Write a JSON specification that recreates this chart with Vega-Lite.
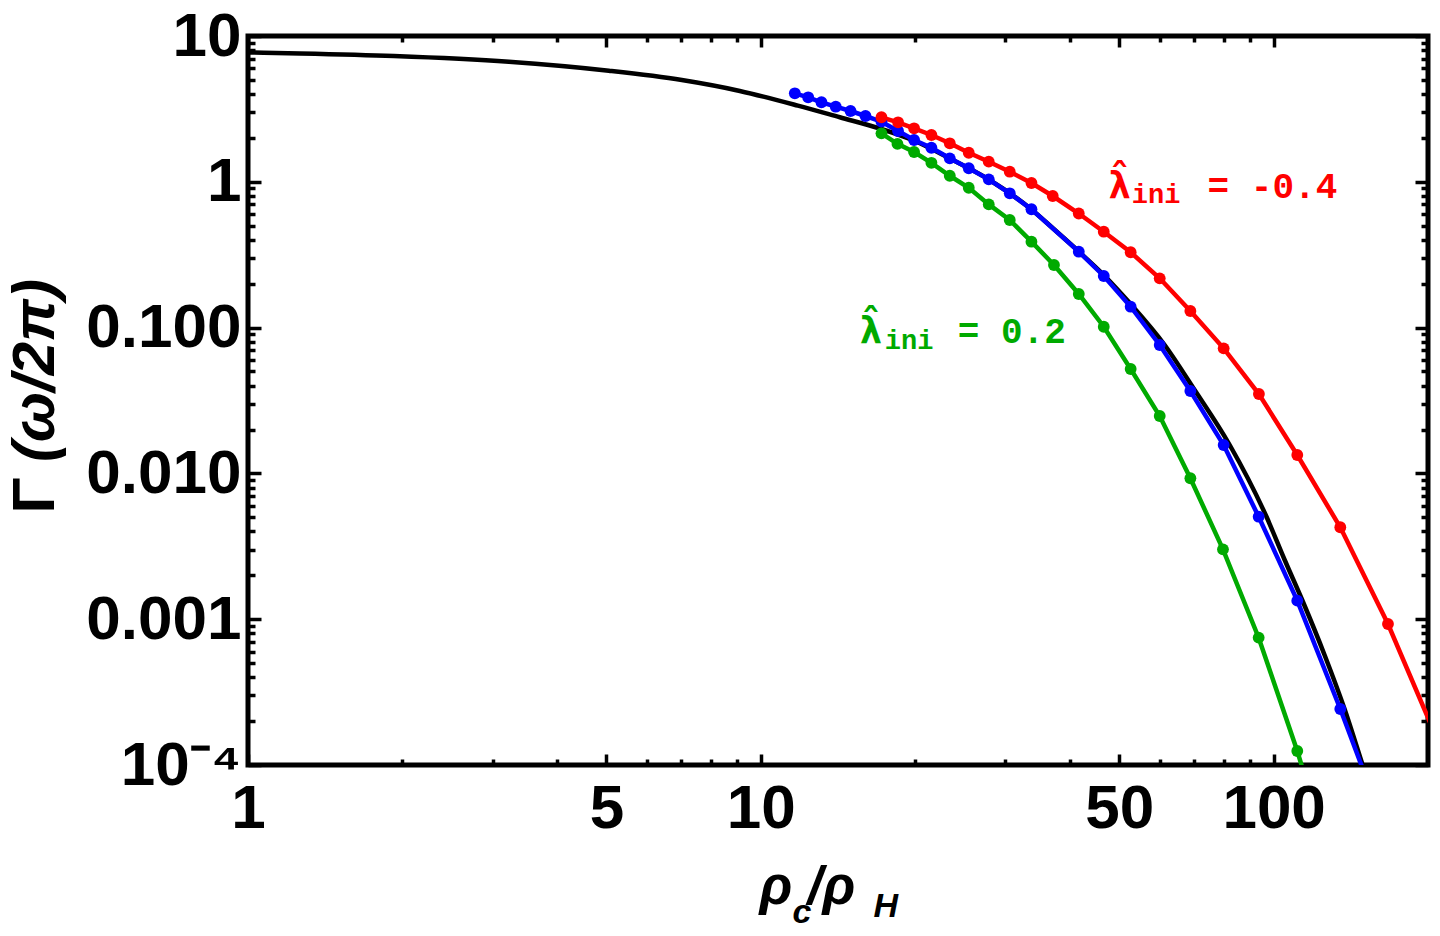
{
  "$schema": "https://vega.github.io/schema/vega-lite/v6.json",
  "description": "Gamma (omega/2pi) against rho_c/rho_H on log-log axes: theory curve and three lambda_ini series.",
  "width": 1180,
  "height": 729,
  "autosize": "none",
  "padding": {"left": 248, "top": 36, "right": 12, "bottom": 171},
  "background": "white",
  "datasets": {
    "theory": [
      {"rho": 1, "gamma": 7.71}, {"rho": 1.263, "gamma": 7.59}, {"rho": 1.926, "gamma": 7.29},
      {"rho": 3.227, "gamma": 6.66}, {"rho": 5.054, "gamma": 5.78}, {"rho": 7.015, "gamma": 4.99},
      {"rho": 9.1, "gamma": 4.2}, {"rho": 11.81, "gamma": 3.33}, {"rho": 14.26, "gamma": 2.77},
      {"rho": 17.06, "gamma": 2.32}, {"rho": 19.87, "gamma": 1.92}, {"rho": 23.36, "gamma": 1.445},
      {"rho": 27.83, "gamma": 1.037}, {"rho": 33.71, "gamma": 0.6457}, {"rho": 37.26, "gamma": 0.4746},
      {"rho": 41.69, "gamma": 0.3327}, {"rho": 46.64, "gamma": 0.2296}, {"rho": 52.63, "gamma": 0.1451},
      {"rho": 61.31, "gamma": 0.076}, {"rho": 70.15, "gamma": 0.03733}, {"rho": 82.1, "gamma": 0.01566},
      {"rho": 96.9, "gamma": 0.00502}, {"rho": 105.1, "gamma": 0.002547}, {"rho": 113.9, "gamma": 0.001333},
      {"rho": 125.7, "gamma": 0.000568}, {"rho": 137.5, "gamma": 0.000242}, {"rho": 149.1, "gamma": 0.0001},
      {"rho": 153.9, "gamma": 0.0000706}
    ],
    "series": [
      {"lam": "other", "rho": 11.65, "gamma": 4.046}, {"lam": "other", "rho": 12.37, "gamma": 3.798},
      {"lam": "other", "rho": 13.13, "gamma": 3.511}, {"lam": "other", "rho": 14.0, "gamma": 3.274},
      {"lam": "other", "rho": 14.96, "gamma": 3.059}, {"lam": "other", "rho": 16.0, "gamma": 2.827},
      {"lam": "other", "rho": 17.19, "gamma": 2.584}, {"lam": "other", "rho": 18.52, "gamma": 2.23},
      {"lam": "other", "rho": 19.9, "gamma": 1.935}, {"lam": "other", "rho": 21.51, "gamma": 1.713},
      {"lam": "other", "rho": 23.36, "gamma": 1.449}, {"lam": "other", "rho": 25.44, "gamma": 1.238},
      {"lam": "other", "rho": 27.83, "gamma": 1.04}, {"lam": "other", "rho": 30.58, "gamma": 0.834},
      {"lam": "other", "rho": 33.71, "gamma": 0.648}, {"lam": "other", "rho": 41.69, "gamma": 0.3316},
      {"lam": "other", "rho": 46.64, "gamma": 0.2259}, {"lam": "other", "rho": 52.63, "gamma": 0.1391},
      {"lam": "other", "rho": 59.96, "gamma": 0.076}, {"lam": "other", "rho": 68.81, "gamma": 0.03674},
      {"lam": "other", "rho": 79.9, "gamma": 0.01566}, {"lam": "other", "rho": 93.5, "gamma": 0.005047},
      {"lam": "other", "rho": 111.2, "gamma": 0.00134}, {"lam": "other", "rho": 134.9, "gamma": 0.000242},
      {"lam": "other", "rho": 164.6, "gamma": 0.0000376},
      {"lam": "0.2", "rho": 17.19, "gamma": 2.15}, {"lam": "0.2", "rho": 18.47, "gamma": 1.82},
      {"lam": "0.2", "rho": 19.9, "gamma": 1.6}, {"lam": "0.2", "rho": 21.51, "gamma": 1.35},
      {"lam": "0.2", "rho": 23.36, "gamma": 1.1}, {"lam": "0.2", "rho": 25.44, "gamma": 0.91},
      {"lam": "0.2", "rho": 27.83, "gamma": 0.7}, {"lam": "0.2", "rho": 30.58, "gamma": 0.547},
      {"lam": "0.2", "rho": 33.71, "gamma": 0.3883}, {"lam": "0.2", "rho": 37.3, "gamma": 0.2688},
      {"lam": "0.2", "rho": 41.69, "gamma": 0.17}, {"lam": "0.2", "rho": 46.64, "gamma": 0.1014},
      {"lam": "0.2", "rho": 52.63, "gamma": 0.052}, {"lam": "0.2", "rho": 59.96, "gamma": 0.02475},
      {"lam": "0.2", "rho": 68.81, "gamma": 0.00926}, {"lam": "0.2", "rho": 79.66, "gamma": 0.003015},
      {"lam": "0.2", "rho": 93.5, "gamma": 0.000747}, {"lam": "0.2", "rho": 111.2, "gamma": 0.0001247},
      {"lam": "0.2", "rho": 134.9, "gamma": 0.0000132},
      {"lam": "-0.4", "rho": 17.19, "gamma": 2.77}, {"lam": "-0.4", "rho": 18.52, "gamma": 2.559},
      {"lam": "-0.4", "rho": 19.9, "gamma": 2.328}, {"lam": "-0.4", "rho": 21.51, "gamma": 2.094},
      {"lam": "-0.4", "rho": 23.36, "gamma": 1.837}, {"lam": "-0.4", "rho": 25.44, "gamma": 1.583},
      {"lam": "-0.4", "rho": 27.83, "gamma": 1.374}, {"lam": "-0.4", "rho": 30.58, "gamma": 1.173},
      {"lam": "-0.4", "rho": 33.71, "gamma": 0.9813}, {"lam": "-0.4", "rho": 37.09, "gamma": 0.799},
      {"lam": "-0.4", "rho": 41.69, "gamma": 0.606}, {"lam": "-0.4", "rho": 46.64, "gamma": 0.4547},
      {"lam": "-0.4", "rho": 52.63, "gamma": 0.3285}, {"lam": "-0.4", "rho": 59.96, "gamma": 0.2178},
      {"lam": "-0.4", "rho": 68.81, "gamma": 0.13}, {"lam": "-0.4", "rho": 79.9, "gamma": 0.0721},
      {"lam": "-0.4", "rho": 93.6, "gamma": 0.03504}, {"lam": "-0.4", "rho": 111.2, "gamma": 0.01337},
      {"lam": "-0.4", "rho": 134.9, "gamma": 0.00427}, {"lam": "-0.4", "rho": 167.1, "gamma": 0.000927},
      {"lam": "-0.4", "rho": 210.7, "gamma": 0.000137}
    ],
    "notes": [
      {"lam": "-0.4", "part": "sym", "text": "λ", "rho": 47.6, "gamma": 0.774},
      {"lam": "-0.4", "part": "sym", "text": "ˆ", "rho": 47.6, "gamma": 0.879},
      {"lam": "-0.4", "part": "sub", "text": "ini", "rho": 52.9, "gamma": 0.72},
      {"lam": "-0.4", "part": "main", "text": "= -0.4", "rho": 74.35, "gamma": 0.774},
      {"lam": "0.2", "part": "sym", "text": "λ", "rho": 15.57, "gamma": 0.0784},
      {"lam": "0.2", "part": "sym", "text": "ˆ", "rho": 15.57, "gamma": 0.0889},
      {"lam": "0.2", "part": "sub", "text": "ini", "rho": 17.45, "gamma": 0.0718},
      {"lam": "0.2", "part": "main", "text": "= 0.2", "rho": 24.21, "gamma": 0.0784}
    ]
  },
  "layer": [
    {
      "data": {"name": "theory"},
      "mark": {"type": "line", "color": "black", "strokeWidth": 4.5, "interpolate": "monotone", "clip": true},
      "encoding": {
        "x": {
          "field": "rho", "type": "quantitative",
          "scale": {"type": "log", "domain": [1, 200], "nice": false},
          "axis": {
            "orient": "bottom", "offset": 0,
            "values": [1, 2, 3, 4, 5, 6, 7, 8, 9, 10, 20, 30, 40, 50, 60, 70, 80, 90, 100],
            "labelExpr": "indexof([1, 5, 10, 50, 100], datum.value) >= 0 ? format(datum.value, 'd') : ''",
            "tickSize": {"condition": {"test": "indexof([1, 5, 10, 50, 100], datum.value) >= 0", "value": -11}, "value": -6},
            "labelPadding": 24,
            "labelBaseline": "top",
            "title": "ρ", "titleX": 511, "titleY": 138, "titleAngle": 0,
            "titleAlign": "left", "titleBaseline": "alphabetic",
            "titleFontSize": 54, "titleFontStyle": "italic"
          }
        },
        "y": {
          "field": "gamma", "type": "quantitative",
          "scale": {"type": "log", "domain": [0.0001, 10], "nice": false},
          "axis": {
            "orient": "left", "offset": 0,
            "values": [0.0001, 0.0002, 0.0003, 0.0004, 0.0005, 0.0006, 0.0007, 0.0008, 0.0009,
                       0.001, 0.002, 0.003, 0.004, 0.005, 0.006, 0.007, 0.008, 0.009,
                       0.01, 0.02, 0.03, 0.04, 0.05, 0.06, 0.07, 0.08, 0.09,
                       0.1, 0.2, 0.3, 0.4, 0.5, 0.6, 0.7, 0.8, 0.9,
                       1, 2, 3, 4, 5, 6, 7, 8, 9, 10],
            "labelExpr": "datum.value == 10 ? '10' : datum.value == 1 ? '1' : datum.value == 0.1 ? '0.100' : datum.value == 0.01 ? '0.010' : datum.value == 0.001 ? '0.001' : datum.value == 0.0001 ? '10⁻⁴' : ''",
            "tickSize": {"condition": {"test": "indexof([0.0001, 0.001, 0.01, 0.1, 1, 10], datum.value) >= 0", "value": -13}, "value": -7},
            "labelPadding": 20,
            "title": "(ω/2π)", "titleX": -213, "titleY": 334, "titleAngle": -90,
            "titleAlign": "center", "titleBaseline": "middle",
            "titleFontSize": 60, "titleFontStyle": "italic"
          }
        }
      }
    },
    {
      "data": {"name": "series"},
      "mark": {"type": "line", "strokeWidth": 4.5, "clip": true, "point": {"filled": true, "size": 140, "clip": true}},
      "encoding": {
        "x": {
          "field": "rho", "type": "quantitative",
          "scale": {"type": "log", "domain": [1, 200], "nice": false},
          "axis": {
            "orient": "top", "offset": 0,
            "values": [1, 2, 3, 4, 5, 6, 7, 8, 9, 10, 20, 30, 40, 50, 60, 70, 80, 90, 100],
            "labels": false,
            "tickSize": {"condition": {"test": "indexof([1, 5, 10, 50, 100], datum.value) >= 0", "value": -11}, "value": -6},
            "title": "c", "titleX": 544, "titleY": 886, "titleAngle": 0,
            "titleAlign": "left", "titleBaseline": "alphabetic",
            "titleFontSize": 34, "titleFontStyle": "italic"
          }
        },
        "y": {
          "field": "gamma", "type": "quantitative",
          "scale": {"type": "log", "domain": [0.0001, 10], "nice": false},
          "axis": {
            "orient": "right", "offset": 0,
            "values": [0.0001, 0.0002, 0.0003, 0.0004, 0.0005, 0.0006, 0.0007, 0.0008, 0.0009,
                       0.001, 0.002, 0.003, 0.004, 0.005, 0.006, 0.007, 0.008, 0.009,
                       0.01, 0.02, 0.03, 0.04, 0.05, 0.06, 0.07, 0.08, 0.09,
                       0.1, 0.2, 0.3, 0.4, 0.5, 0.6, 0.7, 0.8, 0.9,
                       1, 2, 3, 4, 5, 6, 7, 8, 9, 10],
            "labels": false,
            "tickSize": {"condition": {"test": "indexof([0.0001, 0.001, 0.01, 0.1, 1, 10], datum.value) >= 0", "value": -13}, "value": -7},
            "title": "Γ", "titleX": -1393, "titleY": 459, "titleAngle": -90,
            "titleAlign": "center", "titleBaseline": "middle",
            "titleFontSize": 60, "titleFontStyle": "normal"
          }
        },
        "color": {
          "field": "lam", "type": "nominal",
          "scale": {"domain": ["other", "0.2", "-0.4"], "range": ["#0000ff", "#00aa00", "#ff0000"]},
          "legend": null
        }
      }
    },
    {
      "data": {"name": "notes"},
      "transform": [{"filter": "datum.part == 'main'"}],
      "mark": {"type": "text", "font": "Liberation Mono", "fontWeight": "bold", "fontSize": 36, "align": "left", "baseline": "alphabetic"},
      "encoding": {
        "x": {
          "field": "rho", "type": "quantitative",
          "scale": {"type": "log", "domain": [1, 200], "nice": false},
          "axis": {
            "orient": "bottom", "offset": 0, "ticks": false, "labels": false,
            "title": "/ρ", "titleX": 559, "titleY": 138, "titleAngle": 0,
            "titleAlign": "left", "titleBaseline": "alphabetic",
            "titleFontSize": 54, "titleFontStyle": "italic"
          }
        },
        "y": {
          "field": "gamma", "type": "quantitative",
          "scale": {"type": "log", "domain": [0.0001, 10], "nice": false},
          "axis": {
            "orient": "left", "offset": 0, "ticks": false, "labels": false,
            "title": "H", "titleX": 625, "titleY": 880, "titleAngle": 0,
            "titleAlign": "left", "titleBaseline": "alphabetic",
            "titleFontSize": 34, "titleFontStyle": "italic"
          }
        },
        "text": {"field": "text"},
        "color": {
          "field": "lam", "type": "nominal",
          "scale": {"domain": ["other", "0.2", "-0.4"], "range": ["#0000ff", "#00aa00", "#ff0000"]},
          "legend": null
        }
      }
    },
    {
      "data": {"name": "notes"},
      "transform": [{"filter": "datum.part == 'sub'"}],
      "mark": {"type": "text", "font": "Liberation Mono", "fontWeight": "bold", "fontSize": 27, "align": "left", "baseline": "alphabetic"},
      "encoding": {
        "x": {"field": "rho", "type": "quantitative", "scale": {"type": "log", "domain": [1, 200], "nice": false}, "axis": null},
        "y": {"field": "gamma", "type": "quantitative", "scale": {"type": "log", "domain": [0.0001, 10], "nice": false}, "axis": null},
        "text": {"field": "text"},
        "color": {
          "field": "lam", "type": "nominal",
          "scale": {"domain": ["other", "0.2", "-0.4"], "range": ["#0000ff", "#00aa00", "#ff0000"]},
          "legend": null
        }
      }
    },
    {
      "data": {"name": "notes"},
      "transform": [{"filter": "datum.part == 'sym'"}],
      "mark": {"type": "text", "font": "DejaVu Sans Mono", "fontWeight": "bold", "fontSize": 38, "align": "left", "baseline": "alphabetic"},
      "encoding": {
        "x": {"field": "rho", "type": "quantitative", "scale": {"type": "log", "domain": [1, 200], "nice": false}, "axis": null},
        "y": {"field": "gamma", "type": "quantitative", "scale": {"type": "log", "domain": [0.0001, 10], "nice": false}, "axis": null},
        "text": {"field": "text"},
        "color": {
          "field": "lam", "type": "nominal",
          "scale": {"domain": ["other", "0.2", "-0.4"], "range": ["#0000ff", "#00aa00", "#ff0000"]},
          "legend": null
        }
      }
    }
  ],
  "resolve": {"axis": {"x": "independent", "y": "independent"}},
  "config": {
    "view": {"stroke": "black", "strokeWidth": 5},
    "axis": {
      "grid": false,
      "domain": false,
      "labelFont": "Liberation Sans",
      "labelFontWeight": "bold",
      "labelFontSize": 62,
      "labelColor": "black",
      "labelOverlap": false,
      "labelFlush": false,
      "labelBound": false,
      "tickColor": "black",
      "tickWidth": 3.5,
      "titleFont": "Liberation Sans",
      "titleFontWeight": "bold",
      "titleColor": "black"
    }
  }
}
